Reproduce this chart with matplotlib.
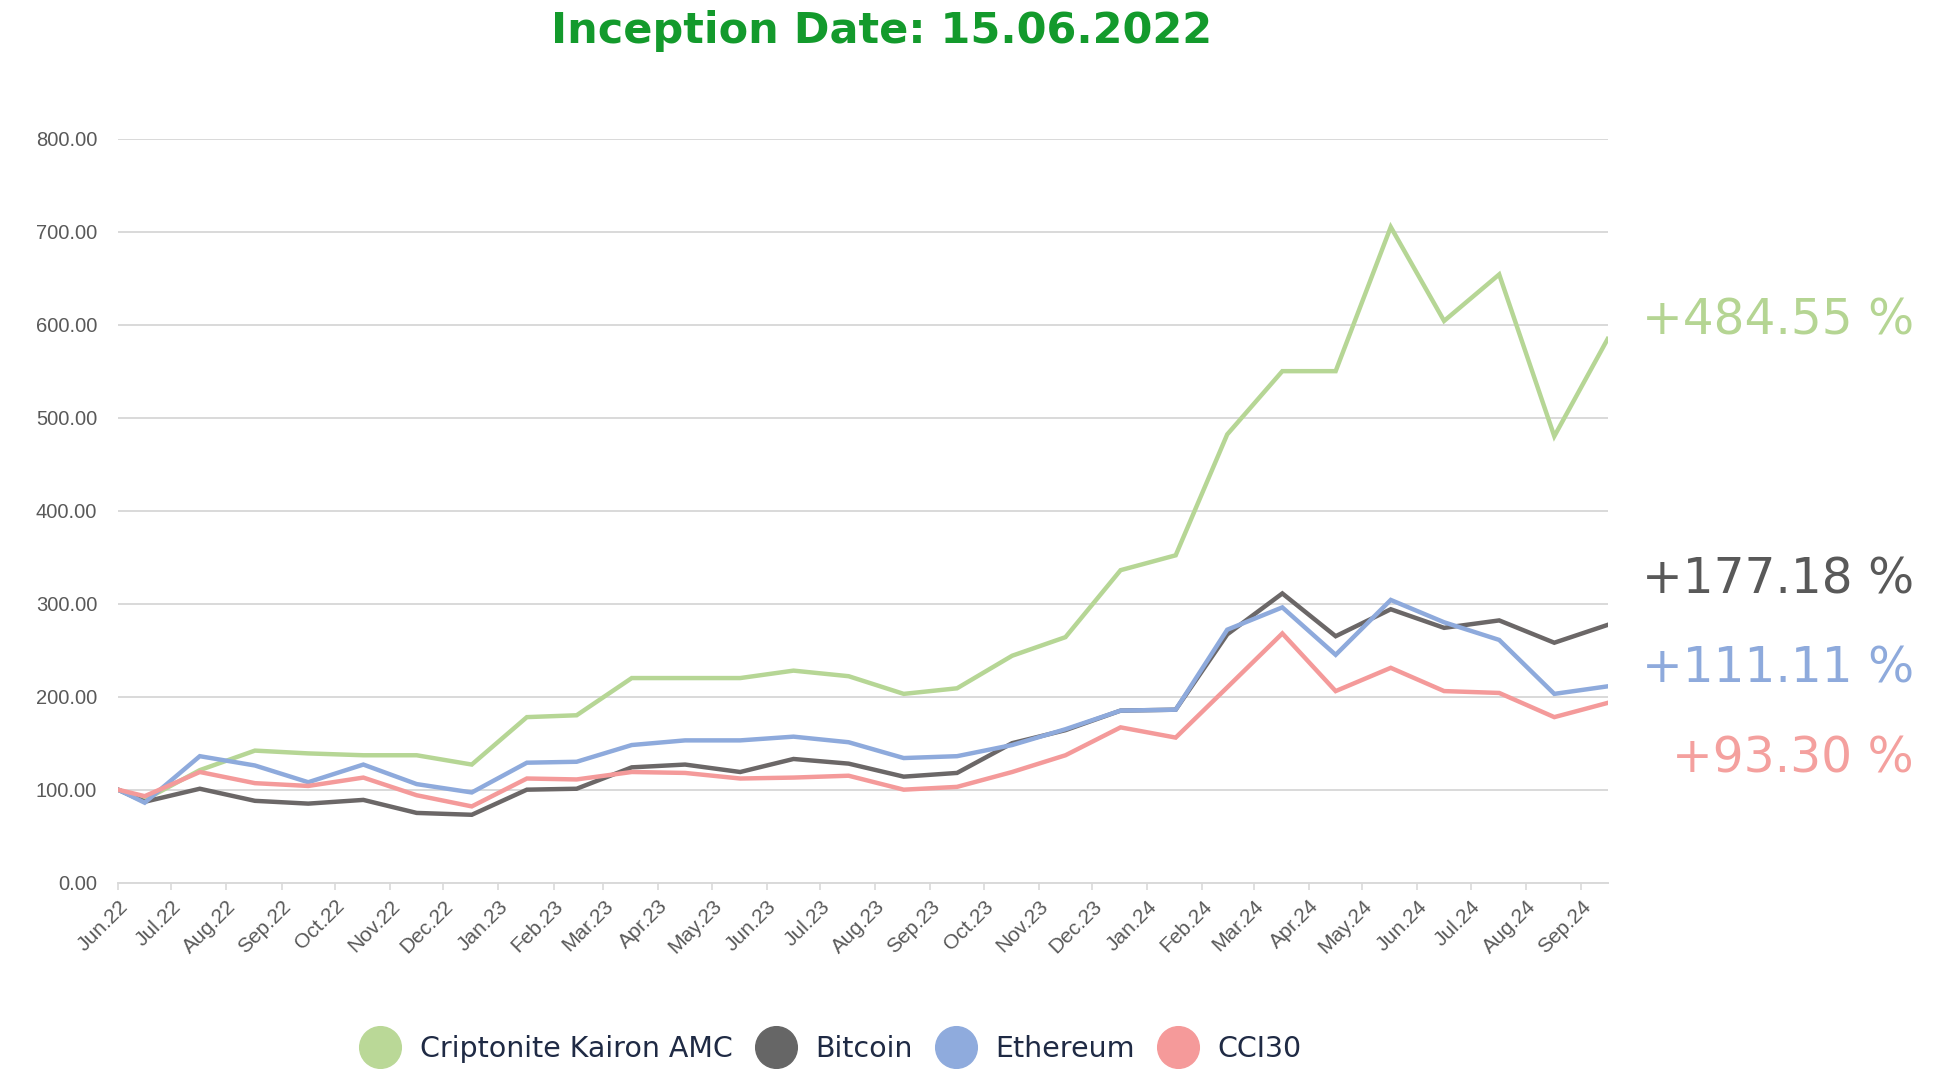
import numpy as np
import pandas as pd
import matplotlib
matplotlib.use("Agg")
import matplotlib.pyplot as plt
import matplotlib.dates as mdates
from matplotlib.lines import Line2D

# inception date, then month-end values
dates = ["2022-06-15", "2022-06-30", "2022-07-31", "2022-08-31", "2022-09-30",
         "2022-10-31", "2022-11-30", "2022-12-31", "2023-01-31", "2023-02-28",
         "2023-03-31", "2023-04-30", "2023-05-31", "2023-06-30", "2023-07-31",
         "2023-08-31", "2023-09-30", "2023-10-31", "2023-11-30", "2023-12-31",
         "2024-01-31", "2024-02-29", "2024-03-31", "2024-04-30", "2024-05-31",
         "2024-06-30", "2024-07-31", "2024-08-31", "2024-09-30"]

kairon = [100, 89, 121, 142, 139, 137, 137, 127, 178, 180, 220, 220, 220, 228, 222,
          203, 209, 244, 264, 336, 352, 482, 550, 550, 705, 604, 654, 480, 584.55]
bitcoin = [100, 87, 101, 88, 85, 89, 75, 73, 100, 101, 124, 127, 119, 133, 128,
           114, 118, 150, 164, 185, 186, 267, 311, 265, 294, 274, 282, 258, 277.18]
ethereum = [100, 86, 136, 126, 108, 127, 106, 97, 129, 130, 148, 153, 153, 157, 151,
            134, 136, 148, 165, 185, 186, 272, 296, 245, 304, 280, 261, 203, 211.11]
cci30 = [100, 93, 119, 107, 104, 113, 94, 82, 112, 111, 119, 118, 112, 113, 115,
         100, 103, 119, 137, 167, 156, 210, 268, 206, 231, 206, 204, 178, 193.30]

names = ["Criptonite Kairon AMC", "Bitcoin", "Ethereum", "CCI30"]
final_labels = ["+484.55 %", "+177.18 %", "+111.11 %", "+93.30 %"]

line_colors = ["#B6D695", "#6B6767", "#8EAADC", "#F49A9A"]
legend_colors = ["#BAD897", "#666666", "#8FABDD", "#F59A9A"]
label_colors = ["#B5D593", "#595959", "#8EAADC", "#F4A09E"]

plt.rcParams["font.family"] = ["Liberation Sans", "DejaVu Sans"]

x = pd.to_datetime(dates)
series = [kairon, bitcoin, ethereum, cci30]

fig = plt.figure(figsize=(19.51, 10.69), dpi=100)
ax = fig.add_axes([0.0605, 0.1743, 0.7635, 0.696])

for vals, c in zip(series, line_colors):
    ax.plot(x, vals, color=c, lw=3.2, solid_joinstyle="miter")

ax.set_ylim(0, 800)
ax.set_yticks(np.arange(0, 801, 100))
ax.yaxis.set_major_formatter(plt.FuncFormatter(lambda v, p: f"{v:.2f}"))
ax.set_xlim(x[0], x[-1])

ax.xaxis.set_major_locator(mdates.MonthLocator(bymonthday=15))
ax.xaxis.set_major_formatter(mdates.DateFormatter("%b.%y"))

ax.grid(axis="y", color="#D9D9D9", lw=1.4)
ax.set_axisbelow(True)
for s in ["top", "right", "left"]:
    ax.spines[s].set_visible(False)
ax.spines["bottom"].set_color("#D9D9D9")
ax.spines["bottom"].set_linewidth(1.4)

ax.tick_params(axis="y", length=0, pad=15, labelsize=14.5, labelcolor="#595959")
ax.tick_params(axis="x", length=5, width=1.2, color="#D9D9D9", pad=5,
               labelsize=15, labelcolor="#595959")
for lab in ax.get_xticklabels():
    lab.set_rotation(45)
    lab.set_ha("right")
    lab.set_rotation_mode("anchor")

fig.text(0.4516, 0.971, "Inception Date: 15.06.2022", ha="center", va="center",
         fontsize=31, fontweight="bold", color="#139A2C", family="DejaVu Sans")

label_y = [0.700, 0.458, 0.375, 0.290]
for txt, c, yy in zip(final_labels, label_colors, label_y):
    fig.text(0.981, yy, txt, ha="right", va="center", fontsize=35,
             color=c, family="DejaVu Sans")

handles = [Line2D([], [], ls="none", marker="o", markersize=30,
                  markerfacecolor=c, markeredgecolor=c) for c in legend_colors]
leg = fig.legend(handles, names, loc="center", bbox_to_anchor=(0.426, 0.019),
                 ncol=4, frameon=False, handlelength=1.4, handletextpad=0.7,
                 columnspacing=0.8, prop={"family": "DejaVu Sans", "size": 20.5})
for t in leg.get_texts():
    t.set_color("#1F2A44")

fig.savefig("out.png", dpi=100)
